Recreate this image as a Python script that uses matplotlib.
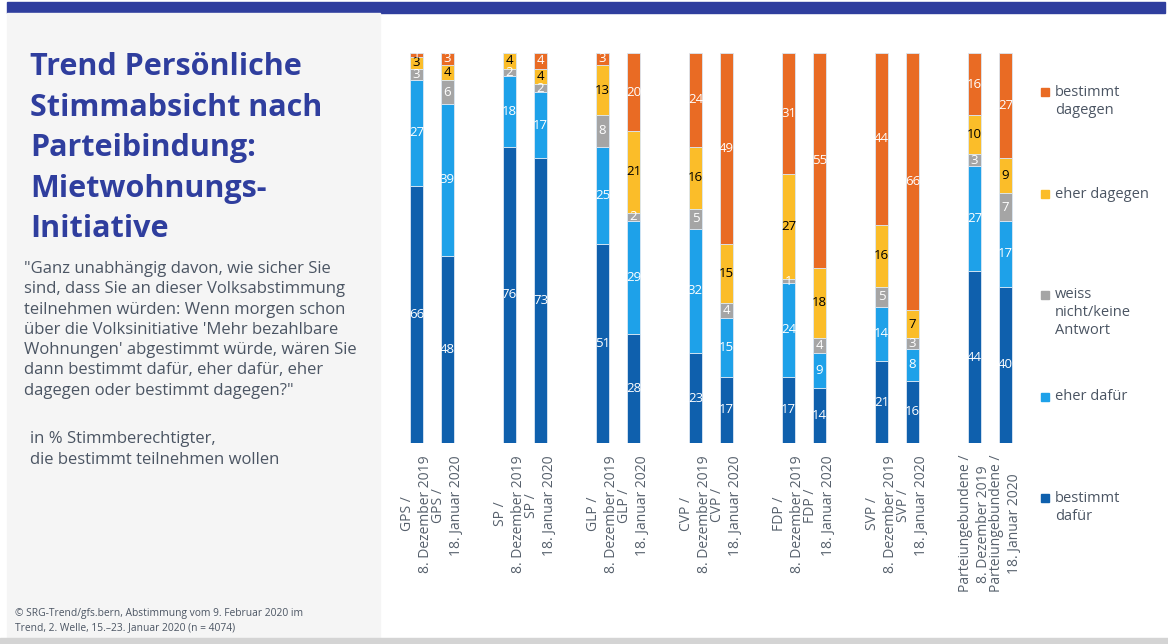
import matplotlib.pyplot as plt
from matplotlib.patches import Rectangle
import matplotlib.transforms as mtransforms

plt.rcParams['font.family'] = ['Open Sans', 'DejaVu Sans']

W, H = 1168, 644

# parties and survey waves
parties = ["GPS", "SP", "GLP", "CVP", "FDP", "SVP", "Parteiungebundene"]
waves = ["8. Dezember 2019", "18. Januar 2020"]

# shares per bar, two bars (Dec / Jan) per party
bestimmt_dafuer = [66, 48, 76, 73, 51, 28, 23, 17, 17, 14, 21, 16, 44, 40]
eher_dafuer = [27, 39, 18, 17, 25, 29, 32, 15, 24, 9, 14, 8, 27, 17]
weiss_nicht = [3, 6, 2, 2, 8, 2, 5, 4, 1, 4, 5, 3, 3, 7]
eher_dagegen = [3, 4, 4, 4, 13, 21, 16, 15, 27, 18, 16, 7, 10, 9]
bestimmt_dagegen = [1, 3, 0, 4, 3, 20, 24, 49, 31, 55, 44, 66, 16, 27]

series = [
    ("bestimmt\ndafür", bestimmt_dafuer, "#0f60ad", "white"),
    ("eher dafür", eher_dafuer, "#1ea1e9", "white"),
    ("weiss\nnicht/keine\nAntwort", weiss_nicht, "#a5a5a5", "white"),
    ("eher dagegen", eher_dagegen, "#fbbd29", "black"),
    ("bestimmt\ndagegen", bestimmt_dagegen, "#e96b24", "white"),
]

TITLE_C = "#2f3e9e"
TEXT_C = "#4b5563"


def fx(x):
    return x / W


def fy(y):
    return 1 - y / H


fig = plt.figure(figsize=(W / 100, H / 100), dpi=100)
fig.patch.set_facecolor("white")

# background blocks: top band, left grey panel, bottom strip
fig.patches.append(Rectangle((fx(7), fy(13)), fx(1158), 11 / H, transform=fig.transFigure,
                             color=TITLE_C, zorder=0))
fig.patches.append(Rectangle((fx(7), fy(638)), fx(373), 625 / H, transform=fig.transFigure,
                             color="#f5f5f5", zorder=0))
fig.patches.append(Rectangle((fx(0), fy(644)), 1, 6 / H, transform=fig.transFigure,
                             color="#d4d4d4", zorder=0))

# title
title_lines = ["Trend Persönliche", "Stimmabsicht nach", "Parteibindung:",
               "Mietwohnungs-", "Initiative"]
for i, line in enumerate(title_lines):
    fig.text(fx(30), fy(75 + i * 40.5), line, fontsize=22, fontweight="bold",
             color=TITLE_C, va="baseline", ha="left")

question = ['"Ganz unabhängig davon, wie sicher Sie',
            "sind, dass Sie an dieser Volksabstimmung",
            "teilnehmen würden: Wenn morgen schon",
            "über die Volksinitiative 'Mehr bezahlbare",
            "Wohnungen' abgestimmt würde, wären Sie",
            "dann bestimmt dafür, eher dafür, eher",
            'dagegen oder bestimmt dagegen?"']
for i, line in enumerate(question):
    fig.text(fx(24), fy(273 + i * 20.3), line, fontsize=12, color=TEXT_C,
             va="baseline", ha="left")

for i, line in enumerate(["in % Stimmberechtigter,", "die bestimmt teilnehmen wollen"]):
    fig.text(fx(30), fy(443 + i * 20.5), line, fontsize=12, color=TEXT_C,
             va="baseline", ha="left")

for i, line in enumerate(["© SRG-Trend/gfs.bern, Abstimmung vom 9. Februar 2020 im",
                          "Trend, 2. Welle, 15.–23. Januar 2020 (n = 4074)"]):
    fig.text(fx(15), fy(616 + i * 14), line, fontsize=7.4, color=TEXT_C,
             va="baseline", ha="left")

# chart area: 31 px per x unit
ax = fig.add_axes([fx(385.5), fy(443), 651 / W, 390 / H])
ax.set_xlim(-1, 20)
ax.set_ylim(0, 100)
ax.axis("off")

xpos = []
labels = []
for g, p in enumerate(parties):
    for k, wv in enumerate(waves):
        xpos.append(g * 3 + k)
        labels.append(f"{p} /\n{wv}")

bottom = [0] * len(xpos)
for name, vals, col, tcol in series:
    ax.bar(xpos, vals, width=0.41, bottom=bottom, color=col,
           edgecolor="#dbe7f3", linewidth=0.6)
    for x, b, v in zip(xpos, bottom, vals):
        if v > 0:
            ax.text(x, b + v / 2, str(v), ha="center", va="center", fontsize=9.5,
                    color=tcol, clip_on=True)
    bottom = [b + v for b, v in zip(bottom, vals)]

trans = mtransforms.blended_transform_factory(ax.transData, fig.transFigure)
for x, lab in zip(xpos, labels):
    ax.text(x, fy(455), lab, transform=trans, rotation=90, ha="center", va="top",
            multialignment="center", fontsize=10, color="#56606c", linespacing=1.3)

# legend on the right
legend_y = [[92, 110], [194], [295, 313, 331], [397], [498, 516]]
for (name, vals, col, tcol), ys in zip(reversed(series), legend_y):
    fig.patches.append(Rectangle((fx(1041), fy(ys[0] + 4)), 8 / W, 8 / H,
                                 transform=fig.transFigure, color=col))
    for y, part in zip(ys, name.split("\n")):
        fig.text(fx(1055), fy(y), part, fontsize=10.5, color=TEXT_C,
                 va="center", ha="left")

fig.savefig("out.png", dpi=100)
